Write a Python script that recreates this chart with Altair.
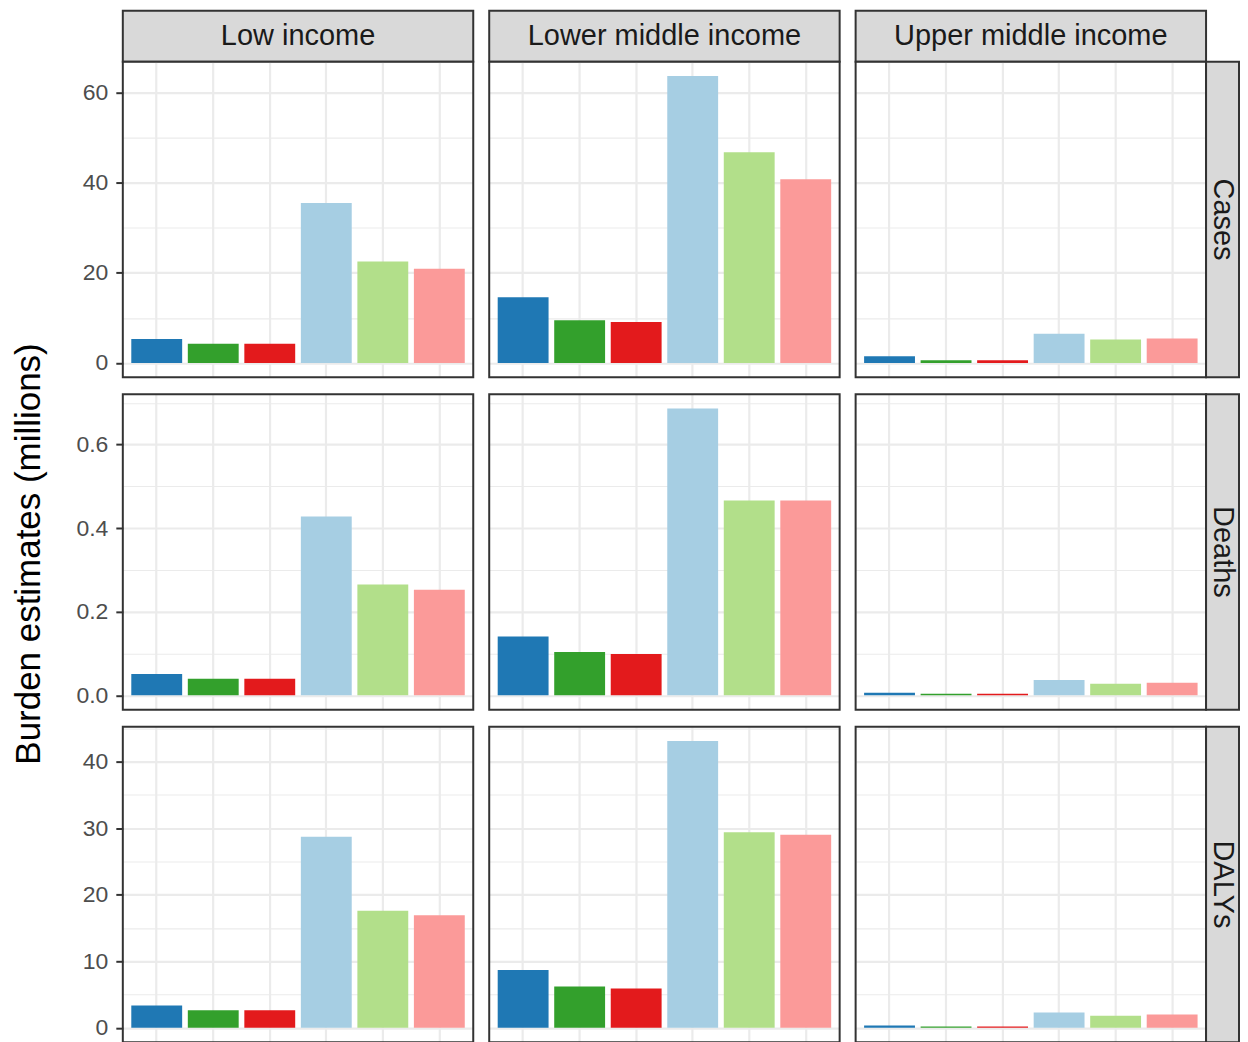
import json
import altair as alt
import pandas as pd

# ---------------- data ----------------
income_groups = ["Low income", "Lower middle income", "Upper middle income"]
measures = ["Cases", "Deaths", "DALYs"]
bar_groups = ["Series 1", "Series 2", "Series 3", "Series 4", "Series 5", "Series 6"]
bar_colors = ["#1F78B4", "#33A02C", "#E31A1C", "#A6CEE3", "#B2DF8A", "#FB9A99"]

cases_low = [5.3, 4.25, 4.25, 35.5, 22.5, 20.9]
cases_lmi = [14.6, 9.5, 9.1, 63.7, 46.8, 40.8]
cases_umi = [1.45, 0.6, 0.6, 6.5, 5.2, 5.4]

deaths_low = [0.051, 0.0395, 0.0395, 0.428, 0.265, 0.2525]
deaths_lmi = [0.141, 0.1035, 0.099, 0.686, 0.466, 0.466]
deaths_umi = [0.006, 0.004, 0.004, 0.037, 0.028, 0.030]

dalys_low = [3.37, 2.63, 2.63, 28.7, 17.6, 16.9]
dalys_lmi = [8.7, 6.2, 5.9, 43.1, 29.4, 29.0]
dalys_umi = [0.35, 0.2, 0.2, 2.3, 1.8, 2.0]

values = {
    "Cases": {"Low income": cases_low, "Lower middle income": cases_lmi, "Upper middle income": cases_umi},
    "Deaths": {"Low income": deaths_low, "Lower middle income": deaths_lmi, "Upper middle income": deaths_umi},
    "DALYs": {"Low income": dalys_low, "Lower middle income": dalys_lmi, "Upper middle income": dalys_umi},
}

major_ticks = {"Cases": [0, 20, 40, 60], "Deaths": [0, 0.2, 0.4, 0.6], "DALYs": [0, 10, 20, 30, 40]}
minor_ticks = {"Cases": [10, 30, 50], "Deaths": [0.1, 0.3, 0.5, 0.7], "DALYs": [5, 15, 25, 35, 45]}
tick_formats = {"Cases": ".0f", "Deaths": ".1f", "DALYs": ".0f"}

y_title = "Burden estimates (millions)"

# ---------------- layout / style ----------------
FONT = "Liberation Sans"
PANEL_W, PANEL_H = 351, 316
LEFT_W, GAP_W, STRIP_W = 114, 16, 33
STRIP_H, GAP_H = 51, 17
GRID = "#EBEBEB"
DARK = "#333333"
NO_STROKE = alt.ViewBackground(stroke="transparent")


def blank(w, h):
    return (
        alt.Chart(alt.Data(values=[{"t": ""}]))
        .mark_text()
        .encode(text="t:N")
        .properties(width=w, height=h, view=NO_STROKE)
    )


def panel(measure, income, first_col):
    df = pd.DataFrame({"group": bar_groups, "value": values[measure][income]})
    row_max = max(max(values[measure][g]) for g in income_groups)
    dom = [-0.05 * row_max, 1.05 * row_max]
    major = major_ticks[measure]
    ticks = sorted(major + minor_ticks[measure])
    is_major = f"indexof({json.dumps(major)}, datum.value) >= 0"
    yaxis = alt.Axis(
        values=ticks,
        format=tick_formats[measure],
        labelExpr=f"{is_major} ? datum.label : ''",
        labels=first_col,
        ticks=first_col,
        domain=False,
        title=None,
        grid=True,
        gridColor=GRID,
        gridWidth={"condition": {"test": is_major, "value": 2.2}, "value": 1.1},
        tickOpacity={"condition": {"test": is_major, "value": 1}, "value": 0},
        tickColor=DARK,
        tickWidth=2,
        tickSize=7,
        labelFont=FONT,
        labelFontSize=23,
        labelColor="#4D4D4D",
        labelPadding=8,
    )
    xaxis = alt.Axis(
        labels=False,
        ticks=False,
        domain=False,
        title=None,
        grid=True,
        gridColor=GRID,
        gridWidth=2.2,
        bandPosition=0.5,
    )
    bars = (
        alt.Chart(df)
        .mark_bar()
        .encode(
            x=alt.X("group:N", sort=bar_groups,
                    scale=alt.Scale(paddingInner=0.1, paddingOuter=0.15), axis=xaxis),
            y=alt.Y("value:Q", scale=alt.Scale(domain=dom, nice=False, zero=False), axis=yaxis),
            color=alt.Color("group:N", scale=alt.Scale(domain=bar_groups, range=bar_colors), legend=None),
        )
    )
    # panel border drawn on top of grid and bars (like ggplot's panel.border)
    frame = (
        alt.Chart(alt.Data(values=[{"f": 1}]))
        .mark_rect(filled=False, stroke=DARK, strokeWidth=2)
        .encode(x=alt.value(0), x2=alt.value(PANEL_W), y=alt.value(0), y2=alt.value(PANEL_H))
    )
    return alt.layer(bars, frame).properties(width=PANEL_W, height=PANEL_H, view=NO_STROKE)


def top_strip(label):
    return (
        alt.Chart(alt.Data(values=[{"label": label}]))
        .mark_text(font=FONT, fontSize=29, color="#1A1A1A", baseline="middle", align="center")
        .encode(text="label:N", x=alt.value(PANEL_W / 2), y=alt.value(STRIP_H / 2))
        .properties(width=PANEL_W, height=STRIP_H,
                    view=alt.ViewBackground(fill="#D9D9D9", stroke=DARK, strokeWidth=2))
    )


def right_strip(label):
    return (
        alt.Chart(alt.Data(values=[{"label": label}]))
        .mark_text(font=FONT, fontSize=29, color="#1A1A1A", baseline="middle", align="center", angle=90)
        .encode(text="label:N", x=alt.value(17), y=alt.value(PANEL_H / 2))
        .properties(width=STRIP_W, height=PANEL_H,
                    view=alt.ViewBackground(fill="#D9D9D9", stroke=DARK, strokeWidth=2))
    )


def title_cell():
    return (
        alt.Chart(alt.Data(values=[{"t": y_title}]))
        .mark_text(font=FONT, fontSize=35, color="#000000", baseline="middle", align="center", angle=270)
        .encode(text="t:N", x=alt.value(20), y=alt.value(PANEL_H / 2 + 2))
        .properties(width=LEFT_W, height=PANEL_H, view=NO_STROKE)
    )


col_widths = [LEFT_W, PANEL_W, GAP_W, PANEL_W, GAP_W, PANEL_W, STRIP_W]

cells = [blank(LEFT_W, STRIP_H)]
for i, g in enumerate(income_groups):
    if i:
        cells.append(blank(GAP_W, STRIP_H))
    cells.append(top_strip(g))
cells.append(blank(STRIP_W, STRIP_H))

for r, m in enumerate(measures):
    if r:
        cells += [blank(w, GAP_H) for w in col_widths]
    cells.append(title_cell() if m == "Deaths" else blank(LEFT_W, PANEL_H))
    for i, g in enumerate(income_groups):
        if i:
            cells.append(blank(GAP_W, PANEL_H))
        cells.append(panel(m, g, i == 0))
    cells.append(right_strip(m))

chart = (
    alt.concat(*cells, columns=7, spacing=0, bounds="flush", align="each")
    .properties(padding={"left": 0, "top": 1, "right": 0, "bottom": 0}, background="white")
    .configure_view(stroke="transparent", fill="white")
)

chart.save("out.html", embed_options={"renderer": "svg", "actions": False})
